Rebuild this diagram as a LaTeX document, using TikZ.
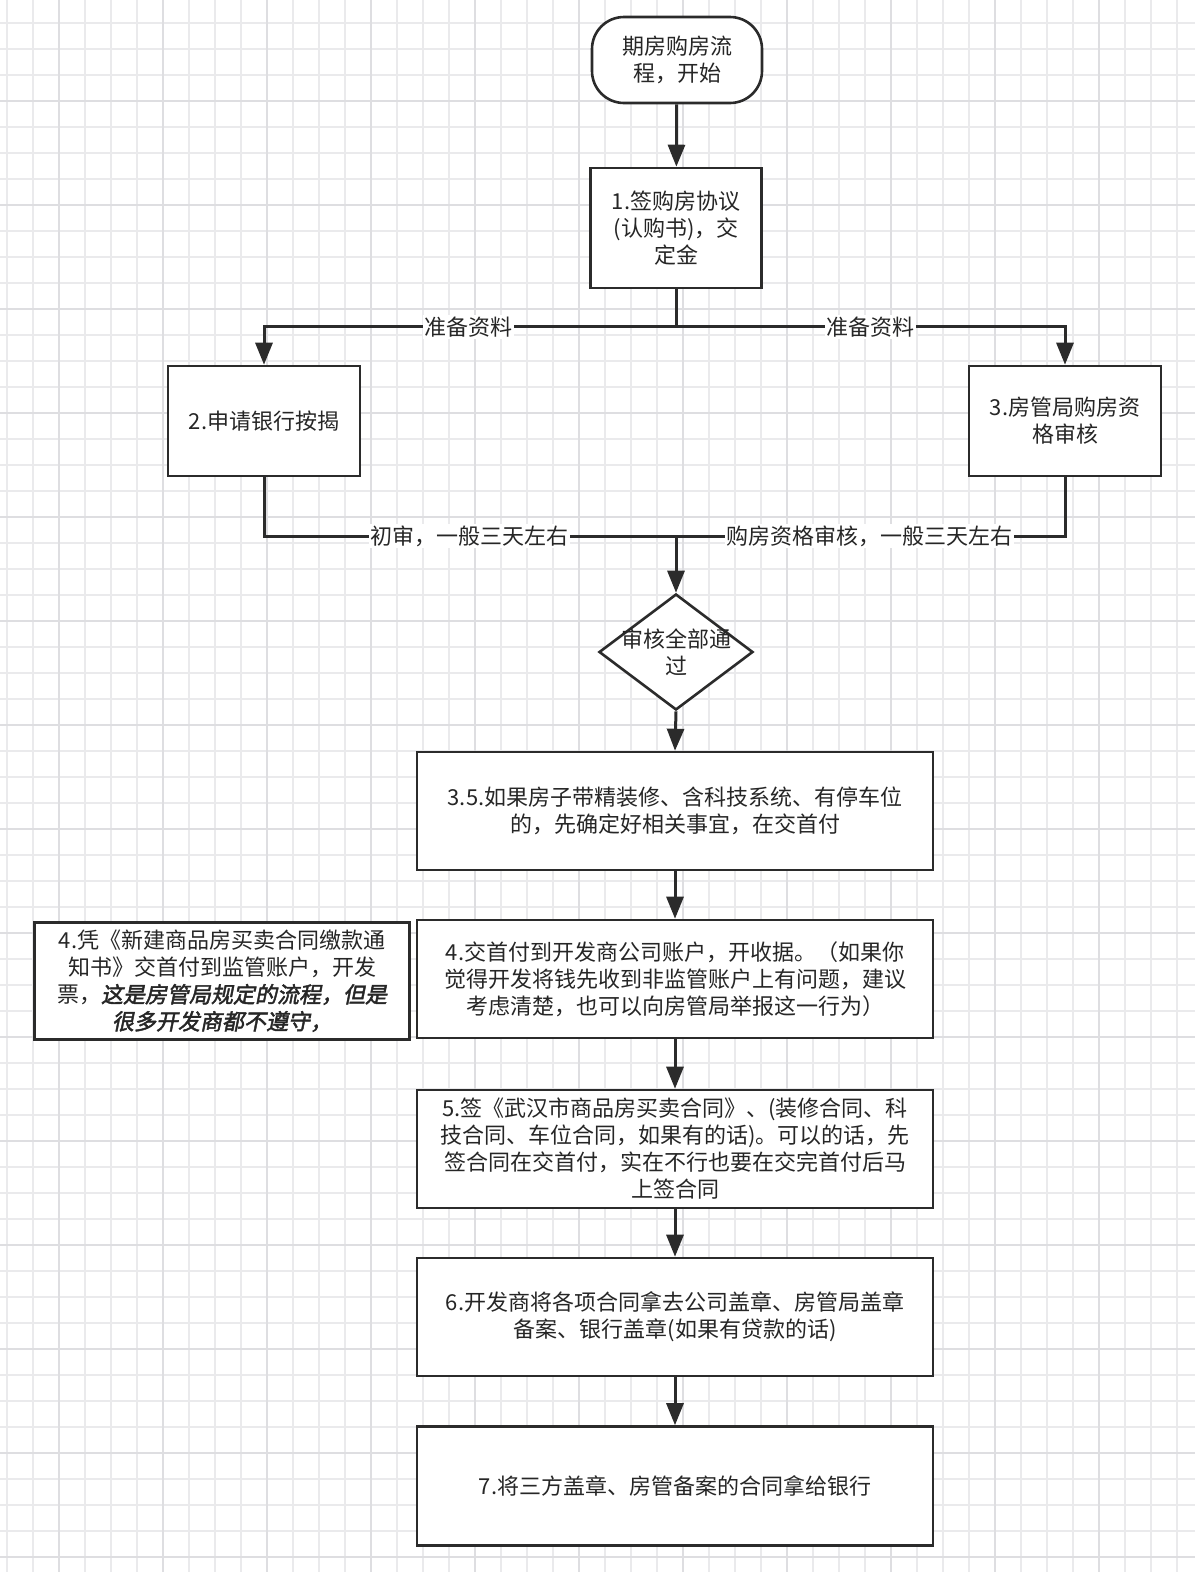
\documentclass[tikz,border=0pt]{standalone}
\usepackage{fontspec}
\setmainfont{Noto Sans CJK SC}
\newfontfamily\cjkbi[FakeSlant=0.2,FakeBold=2]{Noto Sans CJK SC}
\usetikzlibrary{arrows.meta,shapes.geometric}
\definecolor{ln}{HTML}{2B2B2B}
\definecolor{gmin}{HTML}{EAEAEC}
\definecolor{gmaj}{HTML}{DEDEE1}
\tikzset{
  box/.style={draw=ln, line width=2.6pt, fill=white, rectangle, align=center, inner sep=0pt, text=black!85},
  conn/.style={draw=ln, line width=3pt},
  arr/.style={conn, -{Triangle[length=22pt,width=17pt]}},
  lbl/.style={fill=white, inner sep=1.5pt, text=black!85},
}
\begin{document}
\begin{tikzpicture}[x=1pt,y=-1pt,every node/.style={font=\fontsize{22}{27}\selectfont}]
\useasboundingbox (0,0) rectangle (1195,1572);
\fill[white] (0,0) rectangle (1195,1572);
% grid
\foreach \gx in {7,33,...,1195} \draw[gmin, line width=1.2pt] (\gx,0) -- (\gx,1572);
\foreach \gy in {23,49,...,1572} \draw[gmin, line width=1.2pt] (0,\gy) -- (1195,\gy);
\foreach \gx in {59,163,...,1195} \draw[gmaj, line width=1.5pt] (\gx,0) -- (\gx,1572);
\foreach \gy in {101,205,...,1572} \draw[gmaj, line width=1.5pt] (0,\gy) -- (1195,\gy);

% nodes
\node[box, rounded corners=32pt, minimum width=170pt, minimum height=86pt] (start) at (677,60) {期房购房流\\程，开始};
\node[box, minimum width=171pt, minimum height=120pt] (b1) at (676,228) {1.签购房协议\\(认购书)，交\\定金};
\node[box, minimum width=192pt, minimum height=110pt] (b2) at (264,421) {2.申请银行按揭};
\node[box, minimum width=192pt, minimum height=110pt] (b3) at (1065,421) {3.房管局购房资\\格审核};
\node[draw=ln, line width=2.6pt, fill=white, shape=diamond, minimum width=154pt, minimum height=116pt, inner sep=0pt] (d) at (676,652) {};
\node[text=black!85, align=center] (dt) at (d) {审核全部通\\过};
\node[box, minimum width=516pt, minimum height=118pt] (b35) at (675,811) {3.5.如果房子带精装修、含科技系统、有停车位\\的，先确定好相关事宜，在交首付};
\node[box, minimum width=516pt, minimum height=118pt] (b4) at (675,979) {4.交首付到开发商公司账户，开收据。（如果你\\觉得开发将钱先收到非监管账户上有问题，建议\\考虑清楚，也可以向房管局举报这一行为）};
\node[box, line width=3.2pt, minimum width=375pt, minimum height=117pt] (side) at (222,981) {4.凭《新建商品房买卖合同缴款通\\知书》交首付到监管账户，开发\\票，{\cjkbi 这是房管局规定的流程，但是}\\{\cjkbi 很多开发商都不遵守，}};
\node[box, minimum width=516pt, minimum height=118pt] (b5) at (675,1149) {5.签《武汉市商品房买卖合同》、(装修合同、科\\技合同、车位合同，如果有的话)。可以的话，先\\签合同在交首付，实在不行也要在交完首付后马\\上签合同};
\node[box, minimum width=516pt, minimum height=118pt] (b6) at (675,1317) {6.开发商将各项合同拿去公司盖章、房管局盖章\\备案、银行盖章(如果有贷款的话)};
\node[box, minimum width=516pt, minimum height=119pt] (b7) at (675,1486) {7.将三方盖章、房管备案的合同拿给银行};

% connectors
\coordinate (split) at (676,326);
\coordinate (merge) at (676,536);
\draw[arr] (start) -- (b1);
\draw[conn] (b1.south) -- (split);
\draw[arr] (split) -| (b2.north);
\draw[arr] (split) -| (b3.north);
\draw[conn] (b2.south) |- (merge);
\draw[conn] (b3.south) |- (merge);
\draw[arr] (merge) -- (d.north);
\draw[arr] (d.south) -- (b35.north);
\draw[arr] (b35) -- (b4);
\draw[arr] (b4) -- (b5);
\draw[arr] (b5) -- (b6);
\draw[arr] (b6) -- (b7);

% labels
\node[lbl] (l1) at (468,327) {准备资料};
\node[lbl] (l2) at (870,327) {准备资料};
\node[lbl] (l3) at (469,536) {初审，一般三天左右};
\node[lbl] (l4) at (869,536) {购房资格审核，一般三天左右};
\end{tikzpicture}
\end{document}
